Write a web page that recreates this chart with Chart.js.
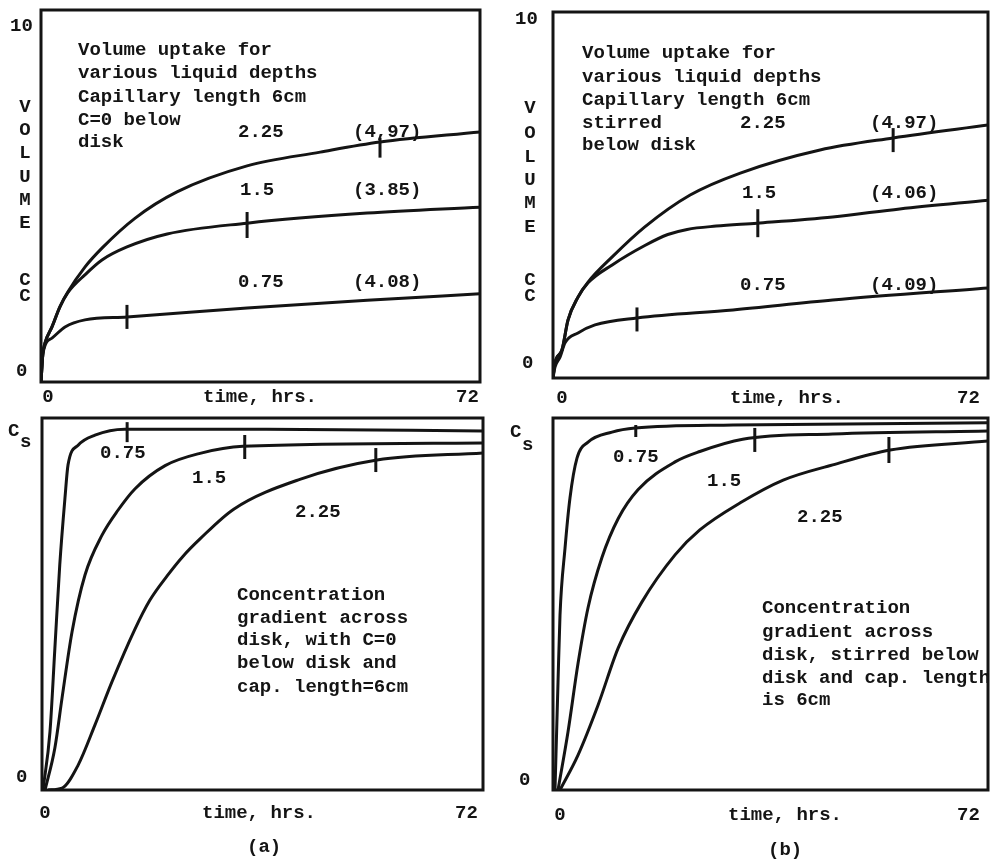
<!DOCTYPE html>
<html>
<head>
<meta charset="utf-8">
<script src="https://cdn.jsdelivr.net/npm/chart.js@4.4.1/dist/chart.umd.min.js"></script>
<style>
body{margin:0;background:#fff;}
#wrap{position:relative;width:992px;height:862px;background:#fff;}
canvas{position:absolute;left:0;top:0;}
</style>
</head>
<body>
<div id="wrap">
<canvas id="tl" width="992" height="862"></canvas>
<canvas id="tr" width="992" height="862"></canvas>
<canvas id="bl" width="992" height="862"></canvas>
<canvas id="br" width="992" height="862"></canvas>
</div>
<script>
// depths (cm) of the three curves
const depths = ['0.75', '1.5', '2.25'];
const timeTicks = ['0', '72'];
const volTicks = ['0', '10'];
const concTicks = ['0'];

// (a) volume uptake, C=0 below disk
const volA_t075 = [0, 0.33, 1.8, 3.94, 7.2, 14.1, 33.8, 53.5, 72];
const volA_v075 = [0, 0.78, 1.18, 1.48, 1.67, 1.75, 1.99, 2.2, 2.37];
const volA_t15 = [0, 0.3, 0.66, 1.8, 3.1, 4.4, 7.2, 10.0, 14.1, 20.7, 33.8, 53.5, 72];
const volA_v15 = [0, 0.75, 1.05, 1.48, 2.02, 2.4, 2.88, 3.28, 3.63, 3.98, 4.27, 4.54, 4.7];
const volA_t225 = [0, 0.3, 0.66, 1.8, 3.1, 4.4, 7.2, 10.0, 15.4, 22.3, 33.8, 45.8, 55.6, 72];
const volA_v225 = [0, 0.75, 1.05, 1.48, 2.02, 2.42, 3.09, 3.6, 4.4, 5.11, 5.81, 6.18, 6.45, 6.72];
const volA_tickT = [14.1, 33.8, 55.6];
const volA_tickV = [1.75, 4.22, 6.3];
const volA_final = ['(4.08)', '(3.85)', '(4,97)'];

// (b) volume uptake, stirred below disk
const volB_t075 = [0, 0.33, 1.16, 1.99, 4.14, 6.95, 13.9, 29.8, 46.3, 72];
const volB_v075 = [0, 0.3, 0.57, 0.96, 1.23, 1.45, 1.64, 1.86, 2.13, 2.46];
const volB_t15 = [0, 0.3, 1.49, 2.48, 4.14, 5.8, 9.8, 15.2, 19.0, 22.2, 27.0, 33.8, 46.3, 57.4, 72];
const volB_v15 = [0, 0.4, 0.77, 1.58, 2.21, 2.6, 3.09, 3.62, 3.92, 4.06, 4.15, 4.23, 4.4, 4.62, 4.86];
const volB_t225 = [0, 0.3, 1.49, 2.48, 4.14, 5.8, 9.8, 15.2, 22.7, 31.0, 44.2, 56.3, 72];
const volB_v225 = [0, 0.4, 0.77, 1.58, 2.21, 2.62, 3.31, 4.13, 5.0, 5.6, 6.23, 6.56, 6.91];
const volB_tickT = [13.9, 33.9, 56.3];
const volB_tickV = [1.6, 4.23, 6.5];
const volB_final = ['(4.09)', '(4.06)', '(4.97)'];

// (a) concentration at disk, C=0 below disk
const conA_t075 = [0.16, 1.3, 2.1, 2.9, 3.75, 4.25, 5.9, 8.65, 13.5, 36.7, 72];
const conA_v075 = [0, 0.156, 0.38, 0.605, 0.785, 0.874, 0.927, 0.954, 0.97, 0.97, 0.965];
const conA_t15 = [0.5, 2.1, 3.27, 4.9, 7.02, 9.8, 12.4, 15.2, 20.1, 25.8, 32.8, 72];
const conA_v15 = [0, 0.113, 0.247, 0.425, 0.578, 0.685, 0.752, 0.81, 0.872, 0.905, 0.924, 0.933];
const conA_t225 = [1.0, 3.27, 5.9, 8.65, 11.4, 15.1, 17.6, 20.4, 23.0, 25.8, 31.3, 42.1, 54.7, 72];
const conA_v225 = [0, 0.005, 0.067, 0.175, 0.29, 0.43, 0.51, 0.575, 0.628, 0.675, 0.755, 0.835, 0.887, 0.906];
const conA_tickT = [13.9, 33.1, 54.5];
const conA_tickV = [0.962, 0.922, 0.887];

// (b) concentration at disk, stirred below disk
const conB_t075 = [0.33, 0.83, 1.16, 1.99, 2.81, 3.97, 5.8, 9.77, 13.6, 29.8, 72];
const conB_v075 = [0, 0.29, 0.47, 0.65, 0.785, 0.892, 0.935, 0.962, 0.973, 0.981, 0.987];
const conB_t15 = [0.83, 2.48, 4.14, 5.8, 8.1, 10.8, 14.1, 20.2, 24.3, 31.4, 46.3, 72];
const conB_v15 = [0, 0.156, 0.34, 0.49, 0.625, 0.73, 0.808, 0.882, 0.91, 0.943, 0.957, 0.965];
const conB_t225 = [1.16, 4.14, 7.45, 10.8, 14.7, 20.2, 24.3, 31.0, 38.1, 46.3, 55.8, 72];
const conB_v225 = [0, 0.094, 0.228, 0.382, 0.505, 0.632, 0.699, 0.772, 0.833, 0.874, 0.914, 0.938];
const conB_tickT = [13.7, 33.4, 55.6];
const conB_tickV = [0.965, 0.941, 0.914];

const FONT = 'bold 19px "Liberation Mono", "DejaVu Sans Mono", monospace';
const INK = '#141414';

const pts = (t, v) => t.map((x, i) => ({x: x, y: v[i]}));

// box round the plot plus all the typed text
const boxText = {
    id: 'boxText',
    afterDraw(chart, args, opts) {
        const ctx = chart.ctx;
        const a = chart.chartArea;
        ctx.save();
        ctx.strokeStyle = INK;
        ctx.lineWidth = 3;
        ctx.strokeRect(a.left, a.top, a.right - a.left, a.bottom - a.top);
        ctx.fillStyle = INK;
        ctx.font = FONT;
        ctx.textBaseline = 'middle';
        opts.labels.forEach(l => {
            ctx.textAlign = l[3] || 'left';
            ctx.fillText(l[0], l[1], l[2]);
        });
        ctx.restore();
    }
};

const makePanel = (id, box, yMax, curves, tickT, tickV, tickR, labels) => {
    const sets = curves.map(c => ({
        data: c,
        borderColor: INK,
        borderWidth: 3,
        pointRadius: 0,
        fill: false,
        cubicInterpolationMode: 'monotone'
    }));
    sets.push({
        data: pts(tickT, tickV),
        showLine: false,
        pointStyle: 'line',
        rotation: 90,
        pointRadius: tickR,
        borderColor: INK,
        pointBorderWidth: 3,
        borderWidth: 3
    });
    return new Chart(document.getElementById(id), {
        type: 'line',
        data: {datasets: sets},
        options: {
            responsive: false,
            animation: false,
            devicePixelRatio: 1,
            layout: {
                autoPadding: false,
                padding: {left: box[0], top: box[1], right: 992 - box[2], bottom: 862 - box[3]}
            },
            scales: {
                x: {type: 'linear', min: 0, max: 72, display: false},
                y: {min: 0, max: yMax, display: false}
            },
            plugins: {
                legend: {display: false},
                tooltip: {enabled: false},
                boxText: {labels: labels}
            }
        },
        plugins: [boxText]
    });
};

const vertical = (word, x, ys) => word.split('').map((ch, i) => [ch, x, ys[i], 'center']);

makePanel('tl', [41, 10, 480, 382], 10,
    [pts(volA_t075, volA_v075), pts(volA_t15, volA_v15), pts(volA_t225, volA_v225)],
    volA_tickT, volA_tickV, [12, 13, 10],
    [
        [volTicks[1], 10, 26], [volTicks[0], 16, 371],
        ...vertical('VOLUME', 25, [107, 130, 153, 177, 200, 223]),
        ...vertical('CC', 25, [280, 296]),
        [timeTicks[0], 48, 397, 'center'], ['time, hrs.', 203, 397], [timeTicks[1], 456, 397],
        ['Volume uptake for', 78, 50], ['various liquid depths', 78, 73],
        ['Capillary length 6cm', 78, 97], ['C=0 below', 78, 120], ['disk', 78, 142],
        [depths[2], 238, 132], [volA_final[2], 353, 132],
        [depths[1], 240, 190], [volA_final[1], 353, 190],
        [depths[0], 238, 282], [volA_final[0], 353, 282]
    ]);

makePanel('tr', [553, 12, 988, 378], 10,
    [pts(volB_t075, volB_v075), pts(volB_t15, volB_v15), pts(volB_t225, volB_v225)],
    volB_tickT, volB_tickV, [12, 14, 12],
    [
        [volTicks[1], 515, 19], [volTicks[0], 522, 363],
        ...vertical('VOLUME', 530, [108, 133, 157, 180, 203, 227]),
        ...vertical('CC', 530, [280, 296]),
        [timeTicks[0], 562, 398, 'center'], ['time, hrs.', 730, 398], [timeTicks[1], 957, 398],
        ['Volume uptake for', 582, 53], ['various liquid depths', 582, 77],
        ['Capillary length 6cm', 582, 100], ['stirred', 582, 123], ['below disk', 582, 145],
        [depths[2], 740, 123], [volB_final[2], 870, 123],
        [depths[1], 742, 193], [volB_final[1], 870, 193],
        [depths[0], 740, 285], [volB_final[0], 870, 285]
    ]);

makePanel('bl', [42, 418, 483, 790], 1,
    [pts(conA_t075, conA_v075), pts(conA_t15, conA_v15), pts(conA_t225, conA_v225)],
    conA_tickT, conA_tickV, [10, 12, 12],
    [
        ['C', 8, 431], ['s', 20, 442], [concTicks[0], 16, 777],
        [timeTicks[0], 45, 813, 'center'], ['time, hrs.', 202, 813], [timeTicks[1], 455, 813],
        ['(a)', 247, 847],
        [depths[0], 100, 453], [depths[1], 192, 478], [depths[2], 295, 512],
        ['Concentration', 237, 595], ['gradient across', 237, 618], ['disk, with C=0', 237, 640],
        ['below disk and', 237, 663], ['cap. length=6cm', 237, 687]
    ]);

makePanel('br', [553, 418, 988, 790], 1,
    [pts(conB_t075, conB_v075), pts(conB_t15, conB_v15), pts(conB_t225, conB_v225)],
    conB_tickT, conB_tickV, [6, 12, 13],
    [
        ['C', 510, 432], ['s', 522, 445], [concTicks[0], 519, 780],
        [timeTicks[0], 560, 815, 'center'], ['time, hrs.', 728, 815], [timeTicks[1], 957, 815],
        ['(b)', 768, 850],
        [depths[0], 613, 457], [depths[1], 707, 481], [depths[2], 797, 517],
        ['Concentration', 762, 608], ['gradient across', 762, 632], ['disk, stirred below', 762, 655],
        ['disk and cap. length', 762, 678], ['is 6cm', 762, 700]
    ]);
</script>
</body>
</html>
